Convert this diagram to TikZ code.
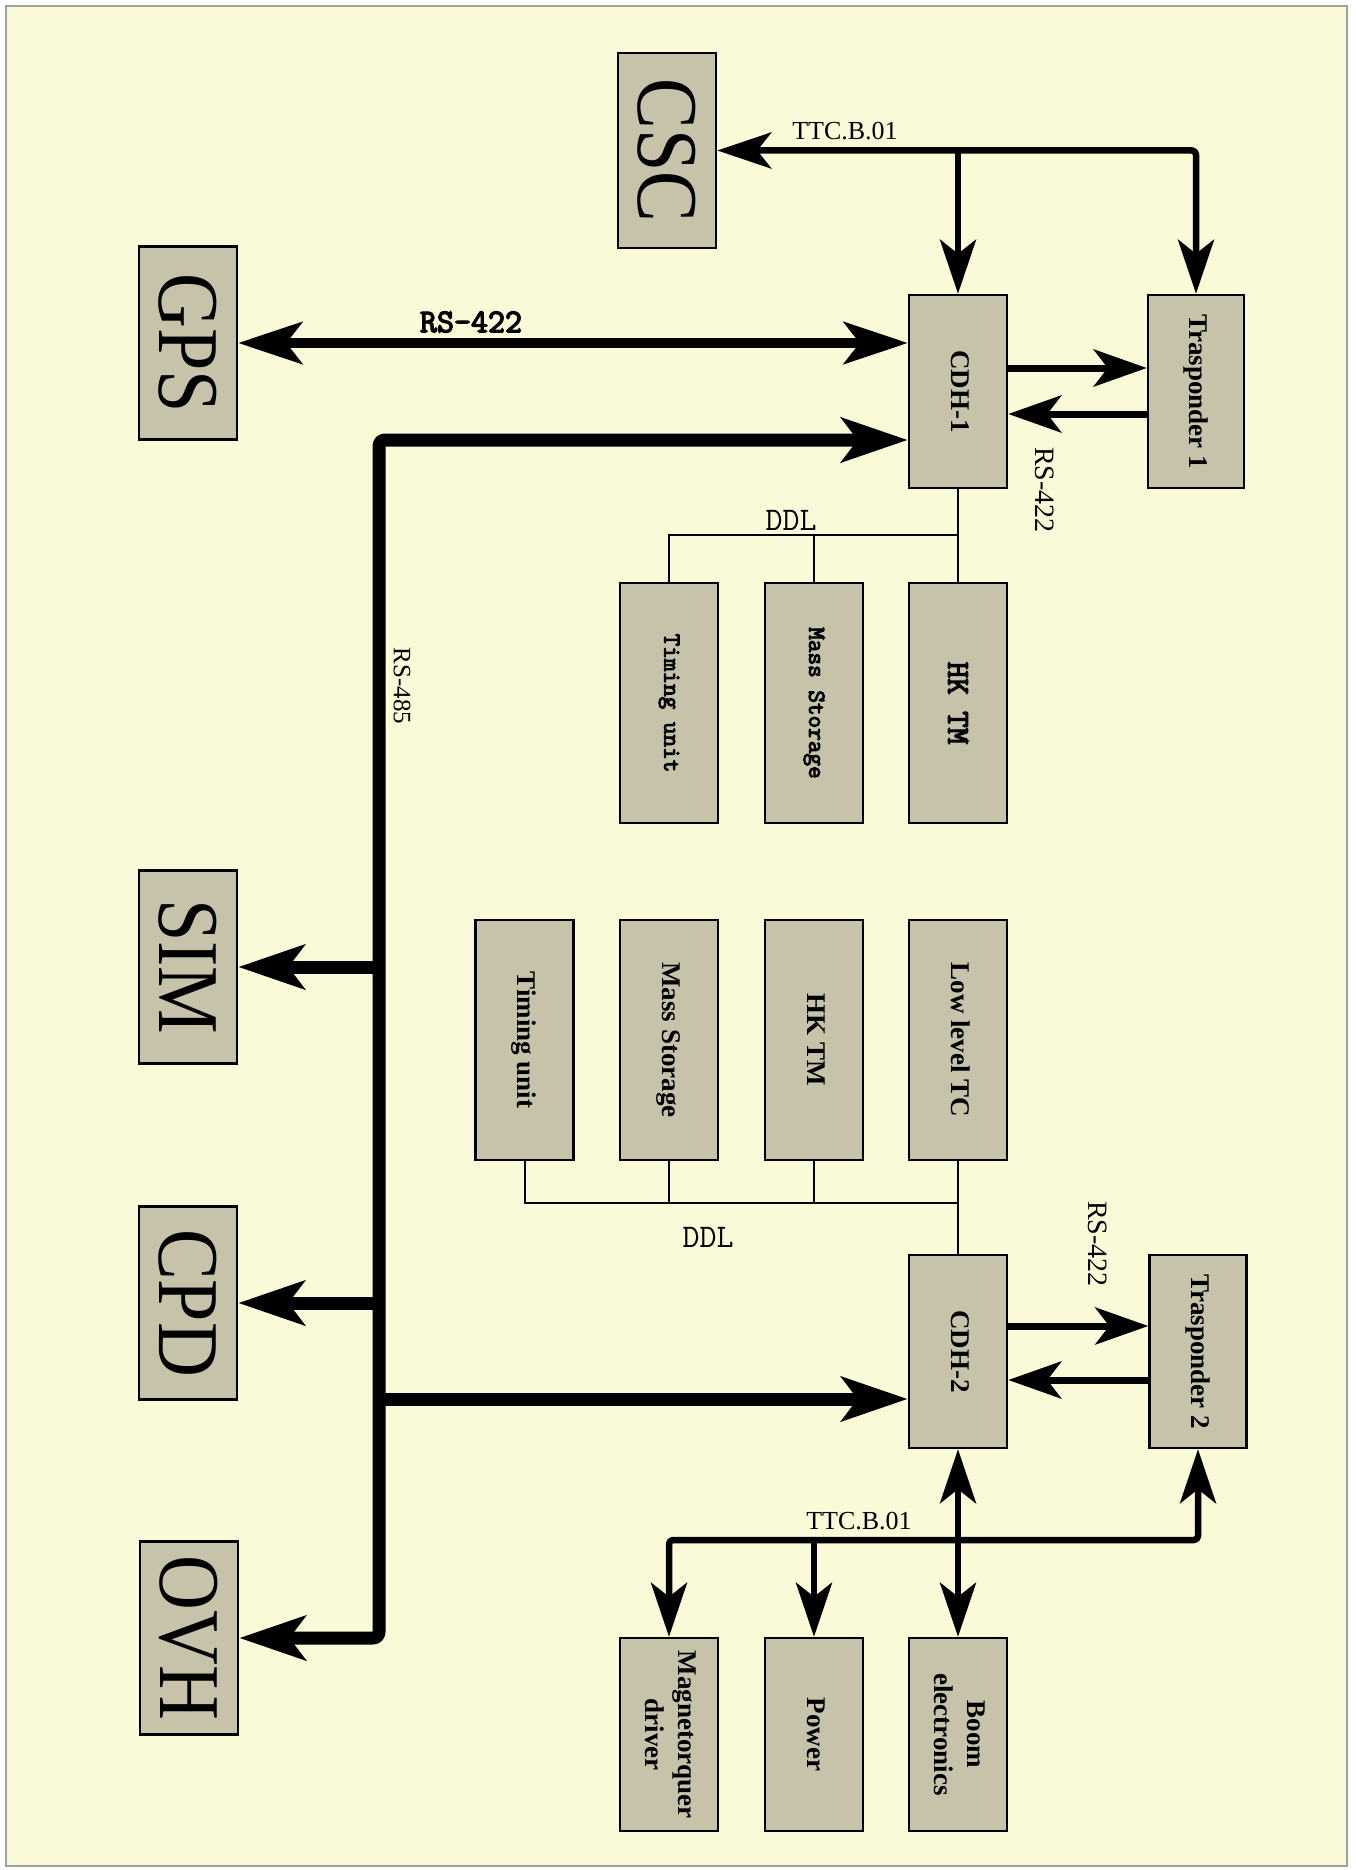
\documentclass[tikz,border=0pt]{standalone}
\usepackage{fontspec}
\setmainfont{Liberation Serif}
\newfontfamily\ttbf{Latin Modern Mono}[FakeBold=4]
\newfontfamily\ttrg{Latin Modern Mono}
\usepackage{graphicx}
\usetikzlibrary{arrows.meta}
\definecolor{bgyellow}{RGB}{250,250,216}
\definecolor{boxfill}{RGB}{198,195,170}
\definecolor{framegray}{RGB}{160,160,160}
\newcommand{\boxlbl}[1]{\rotatebox{-90}{\fontsize{27}{33}\selectfont\bfseries\begin{tabular}{@{}c@{}}#1\end{tabular}}}
\newcommand{\monolbl}[2]{\rotatebox{-90}{\fontsize{#1}{#1}\selectfont\ttbf #2}}
\newcommand{\biglbl}[1]{\rotatebox{-90}{\scalebox{1}[1.14]{\fontsize{76}{76}\selectfont #1}}}
\newcommand{\vlbl}[2]{\rotatebox{-90}{\fontsize{#1}{#1}\selectfont #2}}
\begin{document}
\begin{tikzpicture}[x=1pt,y=-1pt,
  box/.style={draw=black, fill=boxfill, line width=2.5pt, inner sep=0pt, align=center},
  cdhbox/.style={box, minimum width=98pt, minimum height=193pt},
  tallbox/.style={box, minimum width=98pt, minimum height=240pt},
  extbox/.style={box, minimum width=98pt, minimum height=193pt},
  bus/.style={line width=13pt, line join=round, >={Stealth[length=66pt,width=44pt,inset=16pt]}},
  gpsbus/.style={line width=10pt, >={Stealth[length=64pt,width=42pt,inset=16pt]}},
  ttc/.style={line width=6.5pt, line join=round, >={Stealth[length=54pt,width=36pt,inset=14pt]}},
  rsl/.style={line width=7pt, >={Stealth[length=53pt,width=37pt,inset=14pt]}},
  ddl/.style={line width=2pt},
  lab/.style={inner sep=0pt}
]
\useasboundingbox (0,0) rectangle (1356,1870);
\fill[white] (0,0) rectangle (1356,1870);
\draw[framegray, line width=2pt, fill=bgyellow] (6,6) rectangle (1347,1866);

% external boxes (left column)
\node[extbox] (GPS) at (188,343) {\biglbl{GPS}};
\node[extbox] (SIM) at (188,967) {\biglbl{SIM}};
\node[extbox] (CPD) at (188,1303) {\biglbl{CPD}};
\node[extbox] (OVH) at (189,1638) {\biglbl{OVH}};
\node[box, minimum width=98pt, minimum height=195pt] (CSC) at (667,150.5) {\biglbl{CSC}};

% CDH-1 group
\node[cdhbox] (CDH1) at (958,391.5) {\boxlbl{CDH-1}};
\node[cdhbox, minimum width=96pt] (T1) at (1196,391.5) {\boxlbl{Trasponder 1}};
\node[tallbox] (HKTM1) at (958,703) {\monolbl{32}{HK TM}};
\node[tallbox] (MS1) at (814,703) {\monolbl{24.5}{Mass Storage}};
\node[tallbox] (TU1) at (669,703) {\monolbl{24.5}{Timing unit}};

% CDH-2 group
\node[tallbox] (LLTC) at (958,1040) {\boxlbl{Low level TC}};
\node[tallbox] (HKTM2) at (814,1040) {\boxlbl{HK TM}};
\node[tallbox] (MS2) at (669,1040) {\boxlbl{Mass Storage}};
\node[tallbox] (TU2) at (524.5,1040) {\boxlbl{Timing unit}};
\node[cdhbox] (CDH2) at (958,1351.5) {\boxlbl{CDH-2}};
\node[cdhbox, minimum width=97pt] (T2) at (1198,1351.5) {\boxlbl{Trasponder 2}};
\node[cdhbox] (Boom) at (958,1734.5) {\boxlbl{Boom\\electronics}};
\node[cdhbox] (Power) at (814,1734.5) {\boxlbl{Power}};
\node[cdhbox] (MD) at (669,1734.5) {\boxlbl{Magnetorquer\\driver}};

% helper coordinates
\coordinate (bTop) at (379,440);
\coordinate (bBot) at (379,1638);
\coordinate (bC2) at (379,1399);
\coordinate (r1) at (0,368);
\coordinate (r2) at (0,414);
\coordinate (r3) at (0,1326);
\coordinate (r4) at (0,1380);
\coordinate (d1) at (0,535);
\coordinate (d2) at (0,1203);
\coordinate (tb) at (0,1540);

% TTC.B.01 top
\draw[ttc,<->,rounded corners=4pt] (CSC.east) -| (T1.north);
\draw[ttc,->] (CDH1.north |- CSC.east) -- (CDH1.north);

% RS-422 GPS
\draw[gpsbus,<->] (GPS.east) -- (CDH1.west |- GPS.east);

% RS-485 bus
\draw[bus,<->,rounded corners=6pt] (CDH1.west |- bTop) -- (bTop) -- (bBot) -- (OVH.east);
\draw[bus,->] (bTop |- SIM.east) -- (SIM.east);
\draw[bus,->] (bTop |- CPD.east) -- (CPD.east);
\draw[bus,->] (bC2) -- (CDH2.west |- bC2);

% CDH <-> transponders
\draw[rsl,->] (CDH1.east |- r1) -- (T1.west |- r1);
\draw[rsl,->] (T1.west |- r2) -- (CDH1.east |- r2);
\draw[rsl,->] (CDH2.east |- r3) -- (T2.west |- r3);
\draw[rsl,->] (T2.west |- r4) -- (CDH2.east |- r4);

% DDL top
\draw[ddl] (CDH1.south) -- (HKTM1.north);
\draw[ddl] (TU1.north) -- (TU1.north |- d1) -- (CDH1.south |- d1);
\draw[ddl] (MS1.north) -- (MS1.north |- d1);

% DDL bottom
\draw[ddl] (CDH2.north) -- (LLTC.south);
\draw[ddl] (TU2.south) -- (TU2.south |- d2) -- (CDH2.north |- d2);
\draw[ddl] (MS2.south) -- (MS2.south |- d2);
\draw[ddl] (HKTM2.south) -- (HKTM2.south |- d2);

% TTC.B.01 bottom
\draw[ttc,<->,rounded corners=4pt] (MD.north) -- (MD.north |- tb) -| (T2.south);
\draw[ttc,->] (Power.north |- tb) -- (Power.north);
\draw[ttc,<->] (CDH2.south) -- (Boom.north);

% labels
\node[lab, font=\fontsize{26}{26}\selectfont] (ttc1) at (845,131) {TTC.B.01};
\node[lab, font=\fontsize{26}{26}\selectfont] (ttc2) at (859,1521) {TTC.B.01};
\node[lab, font=\fontsize{33}{33}\selectfont\ttbf] (rsgps) at (471,322) {RS-422};
\node[lab, font=\fontsize{33}{33}\selectfont\ttrg] (ddl1) at (791,520) {DDL};
\node[lab, font=\fontsize{33}{33}\selectfont\ttrg] (ddl2) at (708,1237) {DDL};
\node[lab] (rs485) at (402,686) {\vlbl{25}{RS-485}};
\node[lab] (rs422a) at (1045,490) {\vlbl{28}{RS-422}};
\node[lab] (rs422b) at (1098,1244) {\vlbl{28}{RS-422}};
\end{tikzpicture}
\end{document}
